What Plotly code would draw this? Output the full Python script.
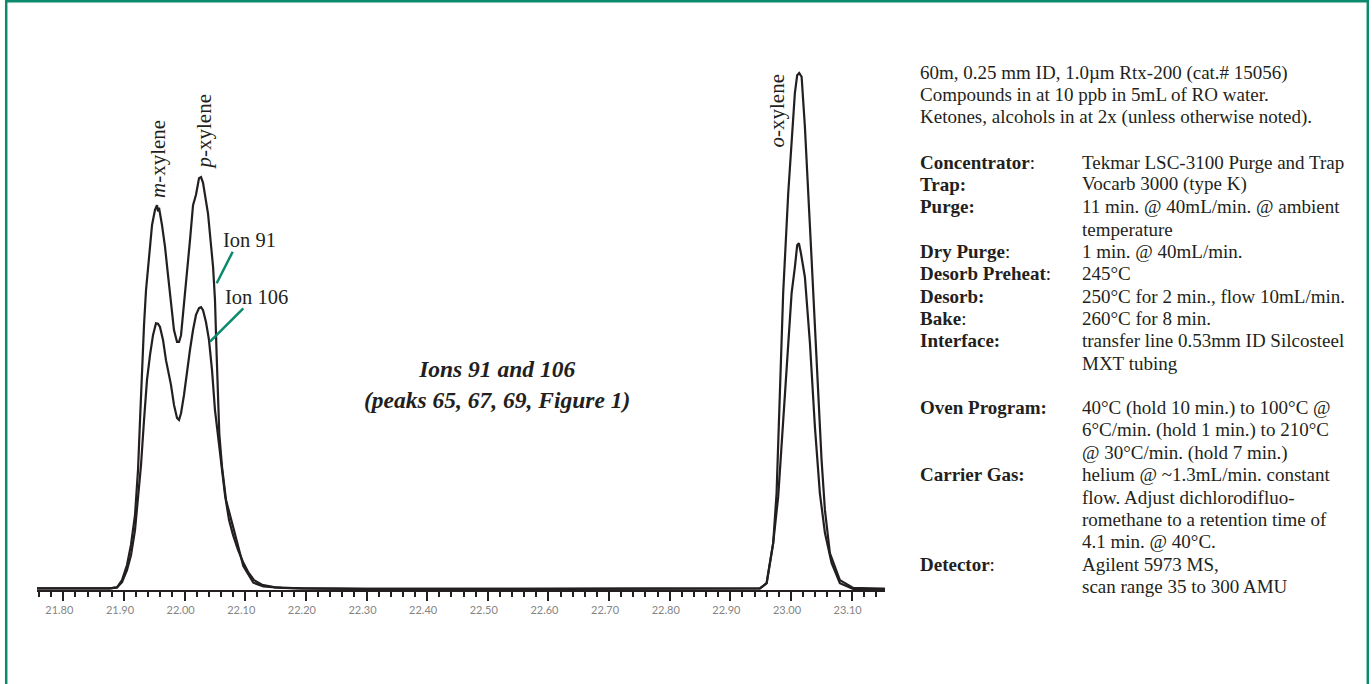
import plotly.graph_objects as go

# ---------------- data (retention time in min, relative abundance) ----------------
ion91_time = [21.7566, 21.80, 21.85, 21.8770, 21.8885, 21.8968, 21.9050, 21.9116, 21.9182,
              21.9232, 21.9265, 21.9298, 21.9331, 21.9364, 21.9413, 21.9463, 21.9512, 21.9545,
              21.9561, 21.9578, 21.9627, 21.9677, 21.9726, 21.9776, 21.9825, 21.9875, 21.9908,
              21.9941, 21.9990, 22.0040, 22.0089, 22.0139, 22.0188, 22.0238, 22.0271, 22.0304,
              22.0353, 22.0386, 22.0469, 22.0501, 22.0529, 22.0551, 22.0572, 22.0617, 22.0683,
              22.0803, 22.0968, 22.1133, 22.1300, 22.1600, 22.2000, 22.3000, 22.6000, 22.9000,
              22.9487, 22.9598, 22.9706, 22.9762, 22.9817, 22.9871, 22.9954, 23.0064, 23.0102,
              23.0135, 23.0175, 23.0229, 23.0340, 23.0422, 23.0504, 23.0559, 23.0641, 23.0806,
              23.1026, 23.1550]
ion91_abund = [0.3, 0.3, 0.2, 0.3, 0.5, 1.9, 4.8, 8.7, 14.4,
               23.1, 32.7, 42.3, 51.0, 57.7, 64.4, 70.2, 73.1, 74.0,
               72.8, 73.5, 70.2, 66.0, 60.6, 54.8, 50.0, 47.7, 47.7,
               49.0, 54.8, 60.6, 67.3, 74.0, 76.0, 79.2, 79.4, 78.3,
               75.0, 72.4, 62.2, 55.8, 45.0, 37.0, 30.1, 23.7, 17.3,
               12.0, 4.6, 1.4, 0.7, 0.4, 0.3, 0.2, 0.2, 0.2,
               0.3, 1.3, 9.0, 18.6, 37.9, 57.1, 76.3, 95.6, 99.0,
               99.4, 98.7, 89.1, 63.5, 44.2, 25.0, 15.4, 7.1, 1.9,
               0.4, 0.2]

ion106_time = [21.7566, 21.80, 21.85, 21.8770, 21.8885, 21.8968, 21.9050, 21.9116, 21.9182,
               21.9232, 21.9281, 21.9331, 21.9380, 21.9430, 21.9479, 21.9528, 21.9561, 21.9594,
               21.9644, 21.9693, 21.9726, 21.9776, 21.9825, 21.9875, 21.9908, 21.9941, 21.9990,
               22.0040, 22.0089, 22.0139, 22.0188, 22.0238, 22.0271, 22.0304, 22.0353, 22.0402,
               22.0452, 22.0501, 22.0551, 22.0600, 22.0666, 22.0732, 22.0798, 22.0881, 22.0963,
               22.1046, 22.1145, 22.1277, 22.1491, 22.1903, 22.3000, 22.6000, 22.9000, 22.9487,
               22.9598, 22.9706, 22.9789, 22.9871, 22.9954, 23.0010, 23.0064, 23.0102, 23.0130,
               23.0163, 23.0229, 23.0312, 23.0394, 23.0476, 23.0559, 23.0669, 23.0806, 23.1026,
               23.1550]
ion106_abund = [0.3, 0.3, 0.2, 0.3, 0.5, 1.5, 3.8, 6.7, 11.5,
                17.3, 24.0, 32.7, 40.4, 45.2, 49.0, 51.3, 51.2, 50.6,
                48.1, 44.2, 42.3, 39.4, 35.6, 33.1, 32.7, 34.0, 37.5,
                42.3, 46.2, 50.0, 52.9, 54.2, 54.4, 53.8, 51.5, 48.1,
                42.3, 34.6, 29.8, 25.0, 18.3, 13.5, 10.6, 7.7, 5.4,
                3.5, 1.9, 1.0, 0.5, 0.3, 0.2, 0.2, 0.2, 0.3,
                1.3, 9.0, 18.0, 33.0, 48.0, 57.1, 62.1, 66.3, 66.7,
                64.8, 60.2, 47.5, 31.4, 18.6, 11.0, 5.2, 1.3, 0.2,
                0.2]

tick_values = [21.80, 21.90, 22.00, 22.10, 22.20, 22.30, 22.40, 22.50,
               22.60, 22.70, 22.80, 22.90, 23.00, 23.10]
tick_labels = ["21.80", "21.90", "22.00", "22.10", "22.20", "22.30", "22.40", "22.50",
               "22.60", "22.70", "22.80", "22.90", "23.00", "23.10"]

info_header = ["60m, 0.25 mm ID, 1.0µm Rtx-200 (cat.# 15056)",
               "Compounds in at 10 ppb in 5mL of RO water.",
               "Ketones, alcohols in at 2x (unless otherwise noted)."]
info_rows = [
    ("<b>Concentrator</b>:", "Tekmar LSC-3100 Purge and Trap"),
    ("<b>Trap:</b>", "Vocarb 3000 (type K)"),
    ("<b>Purge:</b>", "11 min. @ 40mL/min. @ ambient"),
    ("", "temperature"),
    ("<b>Dry Purge</b>:", "1 min. @ 40mL/min."),
    ("<b>Desorb Preheat</b>:", "245°C"),
    ("<b>Desorb:</b>", "250°C for 2 min., flow 10mL/min."),
    ("<b>Bake</b>:", "260°C for 8 min."),
    ("<b>Interface:</b>", "transfer line 0.53mm ID Silcosteel"),
    ("", "MXT tubing"),
    ("", ""),
    ("<b>Oven Program:</b>", "40°C (hold 10 min.) to 100°C @"),
    ("", "6°C/min. (hold 1 min.) to 210°C"),
    ("", "@ 30°C/min. (hold 7 min.)"),
    ("<b>Carrier Gas:</b>", "helium @ ~1.3mL/min. constant"),
    ("", "flow. Adjust dichlorodifluo-"),
    ("", "romethane to a retention time of"),
    ("", "4.1 min. @ 40°C."),
    ("<b>Detector</b>:", "Agilent 5973 MS,"),
    ("", "scan range 35 to 300 AMU"),
]

# ---------------- layout geometry ----------------
W, H = 1372, 684
L, R, T, B = 37, 487, 70, 94
PW, PH = W - L - R, H - T - B


def px(x):
    return (x - L) / PW


def py(y):
    return (H - B - y) / PH


INK = "#231f20"
GREEN = "#0b8a6d"
SERIF = "Liberation Serif"

fig = go.Figure()
fig.add_trace(go.Scatter(x=ion106_time, y=ion106_abund, mode="lines", name="Ion 106",
                         line=dict(color=INK, width=2.2), hoverinfo="x+y"))
fig.add_trace(go.Scatter(x=ion91_time, y=ion91_abund, mode="lines", name="Ion 91",
                         line=dict(color=INK, width=2.2), hoverinfo="x+y"))

ann = []
# compound labels (rotated)
ann.append(dict(x=px(158), y=py(159), text="<i>m</i>-xylene", textangle=-90))
ann.append(dict(x=px(203.5), y=py(132), text="<i>p</i>-xylene", textangle=-90))
ann.append(dict(x=px(776.5), y=py(111), text="<i>o</i>-xylene", textangle=-90))
for a in ann:
    a.update(xref="paper", yref="paper", showarrow=False, xanchor="center", yanchor="middle",
             font=dict(family=SERIF, size=21, color=INK))

# ion labels
for txt, x, y in [("Ion 91", 221, 240), ("Ion 106", 223, 297)]:
    ann.append(dict(x=px(x), y=py(y), text=txt, xref="paper", yref="paper", showarrow=False,
                    xanchor="left", yanchor="middle",
                    font=dict(family=SERIF, size=20.5, color=INK)))

# centre title (one block, two lines)
ann.append(dict(x=px(497), y=py(384), xref="paper", yref="paper", showarrow=False,
                text="<b><i>Ions 91 and 106</i></b><br><b><i>(peaks 65, 67, 69, Figure 1)</i></b>",
                xanchor="center", yanchor="middle", align="center",
                font=dict(family=SERIF, size=23.5, color=INK)))

# info block
y0, dy = 72.6, 22.35
lines = [(h, None) for h in info_header] + [("", None)] + info_rows
for i, (a, b) in enumerate(lines):
    y = y0 + i * dy
    if a:
        ann.append(dict(x=px(918), y=py(y), text=a, xref="paper", yref="paper", showarrow=False,
                        xanchor="left", yanchor="middle",
                        font=dict(family=SERIF, size=19, color=INK)))
    if b:
        ann.append(dict(x=px(1080), y=py(y), text=b, xref="paper", yref="paper", showarrow=False,
                        xanchor="left", yanchor="middle",
                        font=dict(family=SERIF, size=19, color=INK)))

shapes = [
    # leader lines
    dict(type="line", xref="paper", yref="paper", x0=px(232.7), y0=py(251.7), x1=px(216.7), y1=py(283.3),
         line=dict(color=GREEN, width=2.5)),
    dict(type="line", xref="paper", yref="paper", x0=px(243.3), y0=py(308.3), x1=px(210), y1=py(341.7),
         line=dict(color=GREEN, width=2.5)),
    # page frame (open at the bottom)
    dict(type="path", xref="paper", yref="paper",
         path=f"M {px(6.2)} {py(800)} L {px(6.2)} {py(1.2)} L {px(1367.8)} {py(1.2)} L {px(1367.8)} {py(800)}",
         line=dict(color=GREEN, width=2.5)),
]

fig.update_layout(
    width=W, height=H,
    margin=dict(l=L, r=R, t=T, b=B, pad=0),
    paper_bgcolor="white", plot_bgcolor="white",
    showlegend=False,
    annotations=ann, shapes=shapes,
    xaxis=dict(range=[21.7566, 23.155], showgrid=False, zeroline=False,
               showline=True, linecolor=INK, linewidth=2,
               tickmode="array", tickvals=tick_values, ticktext=tick_labels,
               ticks="outside", ticklen=9, tickwidth=2, tickcolor=INK,
               ticklabelshift=-4,
               tickfont=dict(family="Lato", size=11, color="#858585"),
               minor=dict(dtick=0.02, tick0=21.80, ticks="outside", ticklen=5, tickwidth=2,
                          tickcolor=INK, showgrid=False)),
    yaxis=dict(range=[0, 100], visible=False, showgrid=False, zeroline=False),
)

fig.write_html("out.html")
